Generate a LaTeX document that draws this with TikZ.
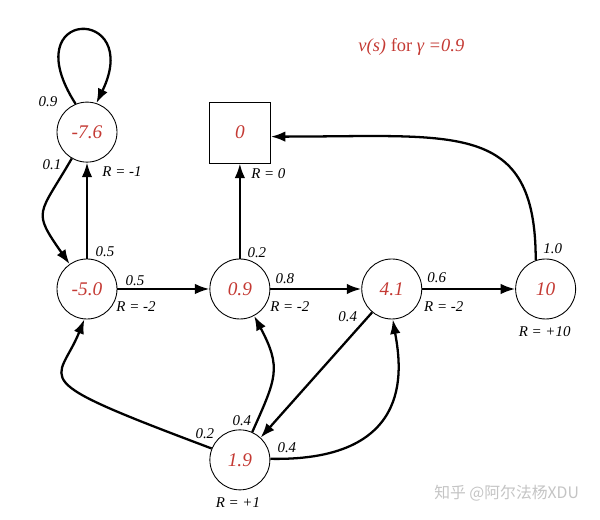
\documentclass[tikz,border=0pt]{standalone}
\usepackage{fontspec}
\setmainfont{Liberation Serif}
\newfontfamily\cjkfont{Noto Sans CJK SC}
\usetikzlibrary{positioning,calc,arrows.meta}
\definecolor{valred}{RGB}{196,58,52}
\definecolor{markgrey}{RGB}{196,196,196}

\begin{document}
\begin{tikzpicture}[node distance=1.84cm,
  state/.style={draw, circle, line width=0.5pt, minimum size=1.2cm, inner sep=0pt, text=valred, font=\fontsize{11}{13}\selectfont\itshape},
  term/.style={draw, rectangle, line width=0.5pt, minimum size=1.22cm, inner sep=0pt, text=valred, font=\fontsize{11}{13}\selectfont\itshape},
  prob/.style={inner sep=0pt, font=\fontsize{8.5}{10}\selectfont\itshape},
  trans/.style={line width=1.3pt, -{Latex[length=2.9mm,width=2.1mm]}}]
\useasboundingbox (-1.74,-4.62) rectangle (10.26,5.78);

% States
\node (class1) [state] {-5.0};
\node (class2) [state, right=of class1] {0.9};
\node (class3) [state, right=1.82cm of class2] {4.1};
\node (pass) [state, right=1.86cm of class3] {10};
\node (facebook) [state, above=1.92cm of class1] {-7.6};
\node (sleep) [term, above=1.9cm of class2] {0};
\node (pub) [state, below=2.2cm of class2] {1.9};

% Transitions
\draw[trans] (class1) -- (class2);
\draw[trans] (class2) -- (class3);
\draw[trans] (class3) -- (pass);
\draw[trans] (class2) -- (sleep);
\draw[trans] (class1) -- (facebook);
\draw[trans] (facebook.112) .. controls +(-1.25,1.95) and +(0.95,1.95) .. (facebook.72);
\draw[trans] (facebook.240) to[out=240, in=125, looseness=1.6] (class1.125);
\draw[trans] (pass.109) .. controls +(0,2.8) and +(3.72,0) .. ([yshift=-0.08cm]sleep.east);
\draw[trans] (class3.230) -- (pub.47);
\draw[trans] (pub.66) to[out=66, in=-62, looseness=1.3] (class2.-62);
\draw[trans] (pub.2) .. controls +(3.0,-0.06) and +(0.14,-0.82) .. (class3.-88);
\draw[trans] (pub.158) .. controls +(-3.84,1.44) and +(-0.52,-1.3) .. (class1.265);

% Probabilities and rewards
\node[prob] (pfbloop) at ($(facebook)+(-0.78,0.6)$) {0.9};
\node[prob] (pfbout) at ($(facebook)+(-0.7,-0.66)$) {0.1};
\node[prob] (rfb) at ($(facebook)+(0.7,-0.78)$) {R = -1};
\node[prob] (pc1up) at ($(class1)+(0.36,0.74)$) {0.5};
\node[prob] (pc1right) at ($(class1)+(0.96,0.16)$) {0.5};
\node[prob] (rc1) at ($(class1)+(0.98,-0.36)$) {R = -2};
\node[prob] (pc2up) at ($(class2)+(0.34,0.72)$) {0.2};
\node[prob] (pc2right) at ($(class2)+(0.9,0.2)$) {0.8};
\node[prob] (rc2) at ($(class2)+(1.0,-0.36)$) {R = -2};
\node[prob] (pc3right) at ($(class3)+(0.9,0.22)$) {0.6};
\node[prob] (pc3pub) at ($(class3)+(-0.88,-0.56)$) {0.4};
\node[prob] (rc3) at ($(class3)+(1.04,-0.36)$) {R = -2};
\node[prob] (ppass) at ($(pass)+(0.14,0.8)$) {1.0};
\node[prob] (rpass) at ($(pass)+(-0.02,-0.86)$) {R = +10};
\node[prob] (rsleep) at ($(sleep)+(0.57,-0.81)$) {R = 0};
\node[prob] (ppubc2) at ($(pub)+(0.04,0.78)$) {0.4};
\node[prob] (ppubc1) at ($(pub)+(-0.7,0.52)$) {0.2};
\node[prob] (ppubc3) at ($(pub)+(0.94,0.24)$) {0.4};
\node[prob] (rpub) at ($(pub)+(-0.04,-0.86)$) {R = +1};

% Title and mark
\node[text=valred, font=\fontsize{10.5}{12}\selectfont] (title) at ($(sleep)+(3.43,1.71)$) {\textit{v(s)} for \textit{γ =0.9}};
\node[text=markgrey, font=\cjkfont\fontsize{9}{11}\selectfont] (mark) at ($(pass)+(-0.78,-4.08)$) {知乎 @阿尔法杨XDU};
\end{tikzpicture}
\end{document}
